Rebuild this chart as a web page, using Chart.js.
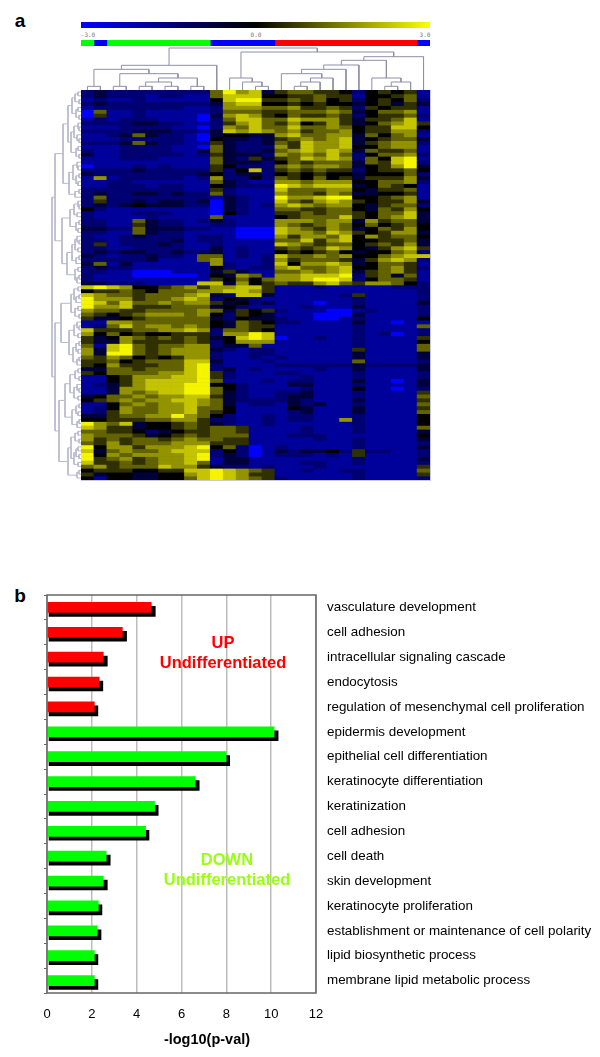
<!DOCTYPE html>
<html>
<head>
<meta charset="utf-8">
<script src="https://cdn.jsdelivr.net/npm/chart.js@4/dist/chart.umd.min.js"></script>
<style>
  html, body { margin: 0; padding: 0; background: #fff; }
  #page { position: relative; width: 600px; height: 1057px; overflow: hidden; font-family: "Liberation Sans", Arial, sans-serif; }
  #page canvas { position: absolute; }
  .txt { position: absolute; white-space: nowrap; transform: translate(-50%, -50%); }
  .panel { font-weight: bold; font-size: 19px; color: #000; }
  .note { font-weight: bold; font-size: 16.5px; text-align: center; line-height: 20px; }
  .scale { font-family: "DejaVu Sans Mono", monospace; font-size: 6px; color: #777; }
  .axisName { font-weight: bold; font-size: 14.5px; color: #000; }
  #heat { filter: blur(0.6px); background: #000066; }
  #colorbar, #strip, #topTree, #leftTree { filter: blur(0.3px); }
  #heatEdge { position: absolute; left: 81px; top: 90px; width: 349px; height: 390px; border-right: 1px solid #c8c8dc; border-bottom: 1px solid #c8c8dc; }
</style>
</head>
<body>
<div id="page">
  <div class="txt panel" style="left:20px;top:21px">a</div>
  <div class="txt panel" style="left:20px;top:596px">b</div>
  <div class="txt scale" style="left:88px;top:34px">-3.0</div>
  <div class="txt scale" style="left:256px;top:34px">0.0</div>
  <div class="txt scale" style="left:425px;top:34px">3.0</div>
  <canvas id="colorbar" width="349" height="6" style="left:81px;top:22px"></canvas>
  <canvas id="strip" width="349" height="6" style="left:81px;top:40px"></canvas>
  <canvas id="topTree" width="349" height="46" style="left:81px;top:45px"></canvas>
  <canvas id="leftTree" width="31" height="390" style="left:50px;top:90px"></canvas>
  <canvas id="heat" width="349" height="390" style="left:81px;top:90px"></canvas>
  <div id="heatEdge"></div>
  <canvas id="bars" width="600" height="477" style="left:0;top:580px"></canvas>
  <div class="txt note" style="left:223px;top:652px;color:#ff0000">UP<br>Undifferentiated</div>
  <div class="txt note" style="left:227px;top:869px;color:#99ff11">DOWN<br>Undifferentiated</div>
  <div class="txt axisName" style="left:207px;top:1039px">-log10(p-val)</div>
</div>
<script>
// panel a: expression levels read by eye, 0 = bright blue, 4 = black, 9 = bright yellow
// columns grouped 10 + 5 + 12 so they are easier to compare with the picture
const heatRows = [
  '2322222222 69783 566554245451',
  '2322212211 68884 455655144561',
  '1211211111 48995 565645245462',
  '2322222222 37884 454544345353',
  '1222222211 27776 675565254551',
  '0611211111 26665 566676346671',
  '0511211110 37875 465565245562',
  '1212221110 26886 687775355681',
  '2222332211 25786 574575346785',
  '1112222110 27686 686676455884',
  '2222333221 38787 675667455772',
  '1123632210 34433 786677364671',
  '1112222210 43323 567678345663',
  '2223632211 53223 658778356772',
  '1112222110 63222 758778446771',
  '2112222113 63223 678787365561',
  '3112222212 53332 767686246672',
  '1112221111 63253 568787264891',
  '1111111111 63332 465666365892',
  '0111212111 54222 676776345793',
  '2222322222 52482 565655245564',
  '3222222223 42332 454544344462',
  '1712222212 72242 654645355573',
  '1122111111 63211 776777446672',
  '1122212211 43222 987888346541',
  '2222222211 52111 866677435561',
  '2322332322 62111 766576334451',
  '2622222222 13211 977899445671',
  '2522323323 03211 865787545573',
  '2323433322 03212 787677435662',
  '4211111111 03211 665566436574',
  '2111222111 04211 556566546683',
  '2111121111 61111 456668546783',
  '2211632212 32111 777677375663',
  '2211532211 22111 765676464564',
  '3322633322 11000 876576346574',
  '2211632211 11000 877687545773',
  '2112322212 21000 757768475664',
  '2212222312 21111 668578445563',
  '2512223211 21111 876566456573',
  '2211222211 31211 565687435785',
  '2323322322 31211 454564344672',
  '3212232216 61212 866767446788',
  '2222231116 71112 756665357872',
  '3613111111 72112 847787346651',
  '2322111111 42122 786678446752',
  '2211000111 35311 667678356751',
  '2111000001 43761 778889256361',
  '2111111111 54646 778998246651',
  '3322211118 83745 655786577642',
  '8987445675 77885 111211111222',
  '4556546667 78875 111111111112',
  '8766566678 32883 111112511112',
  '9777566787 24321 111111211112',
  '9868667677 53423 111011211113',
  '9778555666 34211 112111311112',
  '7665566667 63545 211100121112',
  '6545677767 42543 111000311112',
  '5334566666 32433 211001211114',
  '1177666666 43654 221111311011',
  '1268677676 43655 111111211116',
  '8555667787 26654 111111211112',
  '7464544555 27798 111111212012',
  '5347656565 34898 011211211115',
  '5337555565 24777 111111211114',
  '6189656677 23361 111111211116',
  '7389656777 32122 111111511116',
  '7399656777 21122 111111311113',
  '6576454577 21121 211111311113',
  '5564566688 31112 111111611112',
  '5475556689 21111 222222322223',
  '3366566689 23121 111211311113',
  '5466667789 52111 221111211112',
  '1145777889 52111 112111211112',
  '1145788889 61112 122111311013',
  '1235788899 44211 133111211113',
  '1137788899 64211 112111411012',
  '1137678899 63211 223111211115',
  '3466767788 53211 233111211116',
  '4567677887 63222 232111311115',
  '1146767787 63122 132311211116',
  '1247667786 64111 143111311115',
  '1257667786 54111 123111311116',
  '3356677976 42112 122111211114',
  '4455566775 22112 122117211114',
  '9768344565 32112 111111211114',
  '8755344565 66511 112111211116',
  '6655423455 66511 112111211113',
  '7666534565 66611 122211111114',
  '7565665676 65511 111211211113',
  '6575666777 55511 111111211112',
  '9477577789 46201 211111211113',
  '8367667888 24201 323342522112',
  '9476777789 23201 222121511112',
  '9567567789 13311 111111211113',
  '8556567786 13311 112211211112',
  '6756668775 32212 111211111115',
  '4555445588 98765 112112211116',
  '5344334478 98755 111111211115',
  '4144334468 98765 211111211112'
];
const levelBlue = [255, 155, 115, 60];
const levelYellow = [0, 49, 98, 147, 196, 245];

// annotation strip above the heat map: width in columns and colour of each run
const stripRuns = [1, 1, 8, 5, 11, 1];
const stripColors = ['#00ff00', '#0000ff', '#00ff00', '#0000ff', '#ff0000', '#0000ff'];

// dendrograms: merge height between each pair of neighbouring leaves, in pixels
const topGaps = [4.7, 21.7, 4.7, 17.3, 4.7, 9, 4.7, 13, 4.7, 25.7, 43, 13, 9, 4.7, 39, 17.3, 4.7, 9, 13, 21.7, 26, 30.7, 13, 4.7, 9, 34.3];
const leftGaps = [
  3, 6, 2, 9, 3, 5, 2, 13, 3, 2, 7, 4, 2, 10, 3, 5, 2, 18, 4, 3,
  8, 2, 5, 3, 12, 2, 6, 26, 3, 2, 7, 4, 11, 2, 5, 3, 19, 4, 2, 6,
  3, 9, 2, 5, 14, 3, 6, 2, 4,
  29,
  3, 7, 2, 5, 10, 3, 6, 2, 20, 4, 2, 7, 3, 12, 2, 5, 3, 8, 2, 4,
  26, 3, 6, 2, 11, 4, 2, 7, 3, 16, 2, 5, 3, 9, 2, 4, 22, 3, 6, 2,
  10, 3, 5, 2, 7, 3, 13, 2, 4
];

// panel b
const terms = [
  'vasculature development', 'cell adhesion', 'intracellular signaling cascade', 'endocytosis',
  'regulation of mesenchymal cell proliferation', 'epidermis development', 'epithelial cell differentiation',
  'keratinocyte differentiation', 'keratinization', 'cell adhesion', 'cell death', 'skin development',
  'keratinocyte proliferation', 'establishment or maintenance of cell polarity', 'lipid biosynthetic process',
  'membrane lipid metabolic process'
];
const pValues = [4.65, 3.36, 2.51, 2.33, 2.11, 10.13, 7.99, 6.61, 4.80, 4.40, 2.64, 2.51, 2.29, 2.24, 2.11, 2.11];
const shadowEnds = [4.83, 3.55, 2.69, 2.49, 2.27, 10.31, 8.15, 6.79, 4.96, 4.55, 2.82, 2.69, 2.45, 2.41, 2.27, 2.27];
const barColors = ['#ff0000', '#ff0000', '#ff0000', '#ff0000', '#ff0000',
  '#00ff00', '#00ff00', '#00ff00', '#00ff00', '#00ff00', '#00ff00', '#00ff00', '#00ff00', '#00ff00', '#00ff00', '#00ff00'];
const xTicksMax = 12;

Chart.defaults.font.family = '"Liberation Sans", Arial, sans-serif';
Chart.defaults.animation = false;
Chart.defaults.responsive = false;
Chart.defaults.plugins.legend.display = false;
Chart.defaults.plugins.tooltip.enabled = false;

function levelColor(d) {
  if (d < 4) return 'rgb(0,0,' + levelBlue[d] + ')';
  const y = levelYellow[d - 4];
  return 'rgb(' + y + ',' + y + ',0)';
}

// splits a run of neighbouring leaves at its largest gap and collects the bracket lines
function buildTree(gaps, a, b, pts) {
  if (a === b) return { pos: a + 0.5, h: 0 };
  let k = a;
  for (let i = a; i < b; i++) if (gaps[i] > gaps[k]) k = i;
  const L = buildTree(gaps, a, k, pts);
  const R = buildTree(gaps, k + 1, b, pts);
  pts.push({ pos: L.pos, h: L.h }, { pos: L.pos, h: gaps[k] }, { pos: R.pos, h: gaps[k] }, { pos: R.pos, h: R.h }, null);
  return { pos: (L.pos + R.pos) / 2, h: gaps[k] };
}

function hiddenAxis(extra) {
  return Object.assign({ display: false }, extra);
}

// colour key
new Chart(document.getElementById('colorbar'), {
  type: 'bar',
  data: {
    labels: ['key'],
    datasets: [{
      data: [[-3, 3]],
      barPercentage: 1,
      categoryPercentage: 1,
      backgroundColor: function(context) {
        const g = context.chart.ctx.createLinearGradient(0, 0, 349, 0);
        g.addColorStop(0, '#0000ff');
        g.addColorStop(0.5, '#000000');
        g.addColorStop(1, '#ffff00');
        return g;
      }
    }]
  },
  options: {
    indexAxis: 'y',
    scales: { x: hiddenAxis({ min: -3, max: 3 }), y: hiddenAxis({}) }
  }
});

// annotation strip
new Chart(document.getElementById('strip'), {
  type: 'bar',
  data: {
    labels: ['group'],
    datasets: stripRuns.map((run, i) => ({
      data: [run],
      backgroundColor: stripColors[i],
      barPercentage: 1,
      categoryPercentage: 1
    }))
  },
  options: {
    indexAxis: 'y',
    scales: {
      x: hiddenAxis({ stacked: true, min: 0, max: 27 }),
      y: hiddenAxis({ stacked: true })
    }
  }
});

// column dendrogram
const topPts = [];
buildTree(topGaps, 0, topGaps.length, topPts);
new Chart(document.getElementById('topTree'), {
  type: 'scatter',
  data: {
    datasets: [{
      data: topPts.map(p => p ? { x: p.pos, y: p.h } : { x: NaN, y: NaN }),
      showLine: true,
      spanGaps: false,
      pointRadius: 0,
      borderWidth: 1,
      borderColor: '#8f8fa8'
    }]
  },
  options: {
    scales: { x: hiddenAxis({ min: 0, max: 27 }), y: hiddenAxis({ min: 0, max: 46 }) }
  }
});

// row dendrogram
const leftPts = [];
buildTree(leftGaps, 0, leftGaps.length, leftPts);
new Chart(document.getElementById('leftTree'), {
  type: 'scatter',
  data: {
    datasets: [{
      data: leftPts.map(p => p ? { x: p.h, y: p.pos } : { x: NaN, y: NaN }),
      showLine: true,
      spanGaps: false,
      pointRadius: 0,
      borderWidth: 1,
      borderColor: '#b9b9cc'
    }]
  },
  options: {
    scales: {
      x: hiddenAxis({ min: 0, max: 31, reverse: true }),
      y: hiddenAxis({ min: 0, max: heatRows.length, reverse: true })
    }
  }
});

// heat map: one stacked dataset per row
const heatGrid = heatRows.map(r => r.replace(/ /g, '').split('').map(Number));
new Chart(document.getElementById('heat'), {
  type: 'bar',
  data: {
    labels: heatGrid[0].map((v, i) => i),
    datasets: heatGrid.map(row => ({
      data: row.map(() => 1),
      backgroundColor: row.map(levelColor),
      borderWidth: 0,
      barPercentage: 1,
      categoryPercentage: 1
    }))
  },
  options: {
    scales: {
      x: hiddenAxis({ stacked: true }),
      y: hiddenAxis({ stacked: true, min: 0, max: heatGrid.length, reverse: true })
    }
  }
});

// frame around the plot area of panel b
const plotFrame = {
  id: 'plotFrame',
  afterDatasetsDraw(chart) {
    const a = chart.chartArea;
    const c = chart.ctx;
    c.save();
    c.strokeStyle = '#666';
    c.lineWidth = 1.5;
    c.strokeRect(a.left, a.top, a.right - a.left, a.bottom - a.top);
    c.restore();
  }
};

// panel b: the shadow uses its own y axis, shifted a few pixels down
new Chart(document.getElementById('bars'), {
  type: 'bar',
  data: {
    labels: terms,
    datasets: [
      {
        yAxisID: 'y',
        data: pValues,
        backgroundColor: barColors,
        barThickness: 10,
        grouped: false,
        order: 1
      },
      {
        yAxisID: 'yShadow',
        data: shadowEnds.map((v, i) => ({ x: [0.09, v], y: i })),
        backgroundColor: '#000',
        barThickness: 10,
        grouped: false,
        order: 2
      }
    ]
  },
  options: {
    indexAxis: 'y',
    layout: { padding: { top: 15 } },
    scales: {
      x: {
        min: 0,
        max: xTicksMax,
        afterFit(scale) { scale.height = 64; },
        border: { display: false },
        grid: { color: '#bdbdbd', lineWidth: 1.5, drawTicks: false },
        ticks: { stepSize: 2, color: '#000', font: { size: 13 }, padding: 14 }
      },
      y: {
        position: 'left',
        afterFit(scale) { scale.width = 47; },
        border: { display: false },
        grid: { offset: true, drawOnChartArea: false, color: '#666', tickLength: 3 },
        ticks: { display: false }
      },
      yNames: {
        type: 'category',
        labels: terms,
        position: 'right',
        afterFit(scale) { scale.width = 284; },
        border: { display: false },
        grid: { display: false },
        ticks: { color: '#000', font: { size: 13.4 }, padding: 3, autoSkip: false, crossAlign: 'near' }
      },
      yShadow: {
        type: 'linear',
        display: false,
        reverse: true,
        offset: false,
        min: -0.66,
        max: 15.34
      }
    }
  },
  plugins: [plotFrame]
});
</script>
</body>
</html>
